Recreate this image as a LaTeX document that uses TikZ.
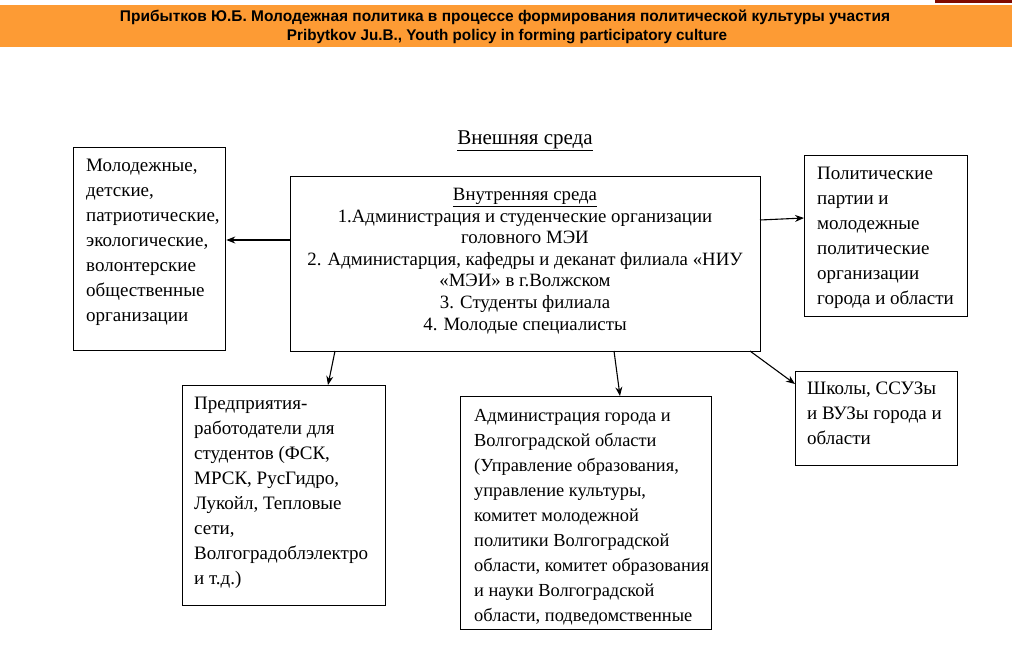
\documentclass[tikz,border=0pt]{standalone}
\usepackage{fontspec}
\usepackage{graphicx}
\setmainfont{Liberation Serif}
\newfontfamily\bodyfont{Liberation Serif}
\newfontfamily\hdrfont{Liberation Sans}
\usetikzlibrary{arrows.meta}
\definecolor{hdrorange}{RGB}{253,155,52}
\definecolor{hdrred}{RGB}{128,10,0}
\begin{document}
\begin{tikzpicture}[x=1pt,y=1pt,
  box/.style={draw=black, line width=1.3pt, rectangle, inner sep=0pt, anchor=north west},
  txt/.style={anchor=north west, align=left, inner sep=0pt, font=\bodyfont\fontsize{19}{25}\selectfont},
  arr/.style={line width=1.1pt, -{Stealth[length=9pt,width=7pt]}}]
\useasboundingbox (0,0) rectangle (1012,-667);
\fill[white] (0,0) rectangle (1012,-667);
% header
\fill[hdrorange] (0,-5) rectangle (1012,-47);
\fill[hdrred] (935,0) rectangle (1012,-2.5);
\node[inner sep=0pt, font=\hdrfont\bfseries\fontsize{15.5}{16}\selectfont] (h1) at (505,-17)
  {\resizebox{770pt}{\height}{Прибытков Ю.Б. Молодежная политика в процессе формирования политической культуры участия}};
\node[inner sep=0pt, font=\hdrfont\bfseries\fontsize{15.5}{16}\selectfont] (h2) at (507,-37)
  {\resizebox{440pt}{\height}{Pribytkov Ju.B., Youth policy in forming participatory culture}};
% title
\node[inner sep=0pt, font=\bodyfont\fontsize{21}{24}\selectfont] (ext) at (525,-141) {\underline{Внешняя среда}};
% central box
\node[box, minimum width=470pt, minimum height=175pt] (C) at (290,-176) {};
\node[anchor=north, align=center, inner sep=0pt, font=\bodyfont\fontsize{18.8}{21.6}\selectfont] (Ct) at (525,-188)
  {\underline{Внутренняя среда}\\
   1.Администрация и студенческие организации\\
   головного МЭИ\\
   2. Администарция, кафедры и деканат филиала «НИУ\\
   «МЭИ» в г.Волжском\\
   3. Студенты филиала\\
   4. Молодые специалисты};
% left box
\node[box, minimum width=152pt, minimum height=203pt] (L) at (73,-147) {};
\node[txt] (Lt) at (86,-159) {Молодежные,\\детские,\\патриотические,\\экологические,\\волонтерские\\общественные\\организации};
% right top box
\node[box, minimum width=163pt, minimum height=161pt] (R) at (804,-155) {};
\node[txt] (Rt) at (817,-167) {Политические\\партии и\\молодежные\\политические\\организации\\города и области};
% right lower box
\node[box, minimum width=162pt, minimum height=94pt] (S) at (795,-371) {};
\node[txt] (St) at (807,-382) {Школы, ССУЗы\\и ВУЗы города и\\области};
% bottom left box
\node[box, minimum width=203pt, minimum height=220pt] (P) at (182,-385) {};
\node[txt] (Pt) at (194,-397) {Предприятия-\\работодатели для\\студентов (ФСК,\\МРСК, РусГидро,\\Лукойл, Тепловые\\сети,\\Волгоградоблэлектро\\и т.д.)};
% bottom middle box
\node[box, minimum width=251pt, minimum height=233pt] (A) at (460,-396) {};
\node[txt, font=\bodyfont\fontsize{18.4}{25}\selectfont] (At) at (474,-409) {Администрация города и\\Волгоградской области\\(Управление образования,\\управление культуры,\\комитет молодежной\\политики Волгоградской\\области, комитет образования\\и науки Волгоградской\\области, подведомственные};
% arrows
\coordinate (c1) at (290,-240);
\draw[arr] (c1) -- (L.east |- c1);
\coordinate (c2) at (760,-220);
\coordinate (r2) at (804,-218);
\draw[arr] (c2) -- (r2);
\coordinate (c3) at (335,-351);
\coordinate (p3) at (328,-385);
\draw[arr] (c3) -- (p3);
\coordinate (c4) at (614,-351);
\coordinate (a4) at (620,-396);
\draw[arr] (c4) -- (a4);
\coordinate (c5) at (750,-351);
\coordinate (s5) at (795,-384);
\draw[arr] (c5) -- (s5);
\end{tikzpicture}
\end{document}
